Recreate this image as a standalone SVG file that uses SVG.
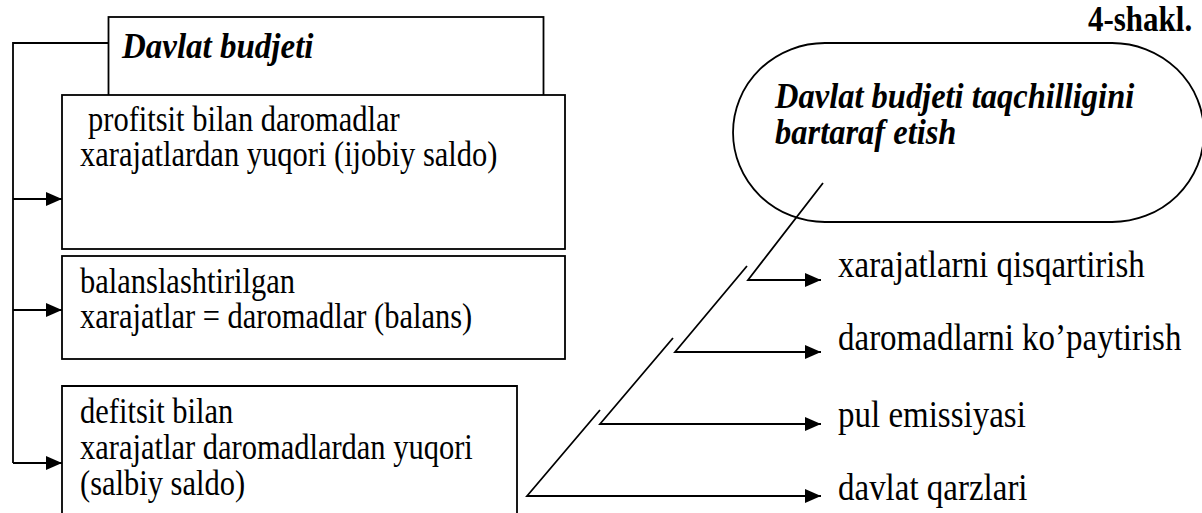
<svg xmlns="http://www.w3.org/2000/svg" width="1202" height="513" viewBox="0 0 1202 513">
<defs>
<style>
.box{fill:#fff;stroke:#000;stroke-width:1.8}
.ln{fill:none;stroke:#000;stroke-width:1.8}
</style>
<marker id="ah" markerUnits="userSpaceOnUse" markerWidth="16" markerHeight="14" refX="16" refY="7" orient="auto">
<path d="M0,0 L16,7 L0,14 Z" fill="#000"/>
</marker>
</defs>
<rect width="1202" height="513" fill="#fff"/>
<text transform="translate(1088,31) scale(1,1.15)" font-family="Liberation Serif" font-size="31" font-weight="bold">4-shakl.</text>
<g id="budjet">
<rect class="box" x="108.5" y="17" width="435" height="90"/>
<text transform="translate(122,58) scale(1,1.1)" font-family="Liberation Serif" font-size="33" font-weight="bold" font-style="italic">Davlat budjeti</text>
</g>
<g id="profitsit">
<rect class="box" x="62" y="95" width="503" height="154"/>
<text transform="translate(88,131) scale(1,1.15)" font-family="Liberation Serif" font-size="30.5">profitsit bilan daromadlar</text>
<text transform="translate(80,166) scale(1,1.15)" font-family="Liberation Serif" font-size="30.5">xarajatlardan yuqori (ijobiy saldo)</text>
</g>
<g id="balans">
<rect class="box" x="62" y="256" width="503" height="103"/>
<text transform="translate(80,293) scale(1,1.15)" font-family="Liberation Serif" font-size="30.5">balanslashtirilgan</text>
<text transform="translate(80,328) scale(1,1.15)" font-family="Liberation Serif" font-size="30.5">xarajatlar = daromadlar (balans)</text>
</g>
<g id="defitsit">
<path class="ln" d="M62,530 V386 H517 V530"/>
<text transform="translate(80,423) scale(1,1.15)" font-family="Liberation Serif" font-size="30.5">defitsit bilan</text>
<text transform="translate(80,459) scale(1,1.15)" font-family="Liberation Serif" font-size="30.5">xarajatlar daromadlardan yuqori</text>
<text transform="translate(80,495) scale(1,1.15)" font-family="Liberation Serif" font-size="30.5">(salbiy saldo)</text>
</g>
<g id="taqchillik">
<path class="ln" d="M825,43 H1112 A92 89.5 0 0 1 1112,222 H825 A92 89.5 0 0 1 825,43 Z"/>
<text transform="translate(775,108) scale(1,1.1)" font-family="Liberation Serif" font-size="32.5" font-weight="bold" font-style="italic">Davlat budjeti taqchilligini</text>
<text transform="translate(775,144) scale(1,1.1)" font-family="Liberation Serif" font-size="32.5" font-weight="bold" font-style="italic">bartaraf etish</text>
</g>
<g id="labels">
<text transform="translate(838,277) scale(1,1.12)" font-family="Liberation Serif" font-size="33">xarajatlarni qisqartirish</text>
<text transform="translate(838,350) scale(1,1.12)" font-family="Liberation Serif" font-size="33">daromadlarni ko’paytirish</text>
<text transform="translate(838,427) scale(1,1.12)" font-family="Liberation Serif" font-size="33">pul emissiyasi</text>
<text transform="translate(838,500) scale(1,1.12)" font-family="Liberation Serif" font-size="33">davlat qarzlari</text>
</g>
<g id="connectors">
<path class="ln" d="M108.5,43 H13 V463"/>
<path class="ln" d="M13,199 H62" marker-end="url(#ah)"/>
<path class="ln" d="M13,310 H62" marker-end="url(#ah)"/>
<path class="ln" d="M13,463 H62" marker-end="url(#ah)"/>
<path class="ln" d="M823,183 L748,280 H821" marker-end="url(#ah)"/>
<path class="ln" d="M747,266 L675,352 H821" marker-end="url(#ah)"/>
<path class="ln" d="M673,338 L600,424 H821" marker-end="url(#ah)"/>
<path class="ln" d="M600,410 L527,496 H821" marker-end="url(#ah)"/>
</g>
</svg>
